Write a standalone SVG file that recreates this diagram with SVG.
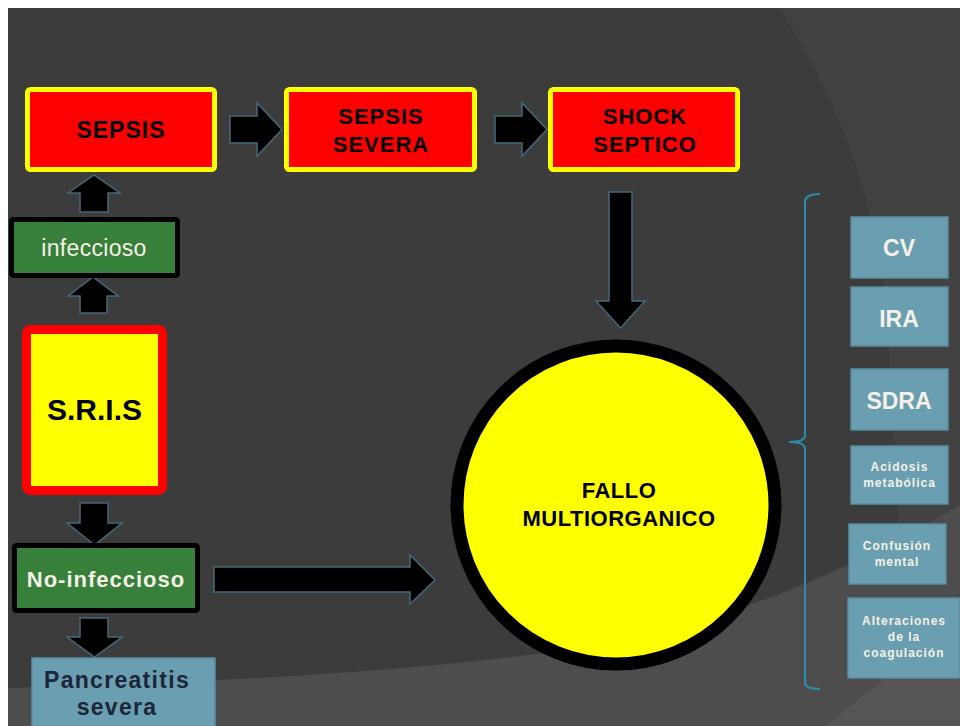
<svg xmlns="http://www.w3.org/2000/svg" width="960" height="726" viewBox="0 0 960 726">
<defs>
<style>
.arrow{fill:#000;stroke:#43697a;stroke-width:1.5;stroke-linejoin:miter}
.redbox{fill:#ff0000;stroke:#ffff00;stroke-width:5}
.greenbox{fill:#378039;stroke:#000;stroke-width:5}
.tealbox{fill:#6a9fb1;stroke:#5a8d9e;stroke-width:1.5}
.t{font-family:"Liberation Sans",Arial,sans-serif;text-anchor:middle}
.rt{font-size:22px;font-weight:bold;fill:#000;letter-spacing:1px}
.wt{fill:#f6f1e8;font-weight:bold}
.st{font-size:12px;letter-spacing:1px}
</style>
</defs>
<rect x="0" y="0" width="960" height="726" fill="#ffffff"/>
<rect x="8" y="8" width="952" height="718" fill="#3c3c3c"/>
<path d="M780 8 Q870 150 885 300 Q900 500 905 726 L960 726 L960 8 Z" fill="#424242"/>
<path d="M8 688 Q400 678 620 642 Q800 602 960 505 L960 726 L8 726 Z" fill="#4d4d4d"/>
<path d="M826 726 Q890 670 960 627 L960 726 Z" fill="#555555"/>

<g id="connectors">
<path class="arrow" d="M230 116 L257 116 L257 103 L282 129.5 L257 156 L257 143 L230 143 Z"/>
<path class="arrow" d="M495 116 L522 116 L522 103 L547 129.5 L522 156 L522 143 L495 143 Z"/>
<path class="arrow" d="M609 192 L632 192 L632 301 L645 301 L620.5 328 L596 301 L609 301 Z"/>
<path class="arrow" d="M80 212 L80 193 L68 193 L94 175 L120 193 L108 193 L108 212 Z"/>
<path class="arrow" d="M80 313 L80 296 L68 296 L93 277 L118 296 L107 296 L107 313 Z"/>
<path class="arrow" d="M80 503 L108 503 L108 523 L122 523 L94.5 545 L67 523 L80 523 Z"/>
<path class="arrow" d="M80 618 L108 618 L108 637 L122 637 L94.5 657 L67 637 L80 637 Z"/>
<path class="arrow" d="M214 567 L410 567 L410 555 L435 580 L410 604 L410 592 L214 592 Z"/>
<path d="M820 194 Q806 194 805 201 L805 436 Q804 442 789 442 Q804 442 805 448 L805 683 Q806 689 820 689" fill="none" stroke="#2a8cad" stroke-width="2"/>
</g>

<g id="sepsis">
<rect class="redbox" x="27.5" y="89.5" width="187" height="80" rx="3"/>
<text class="t rt" x="121" y="138" style="font-size:23px">SEPSIS</text>
</g>
<g id="sepsis-severa">
<rect class="redbox" x="286.5" y="89.5" width="188" height="80" rx="3"/>
<text class="t rt" x="381" y="124">SEPSIS</text>
<text class="t rt" x="381" y="152">SEVERA</text>
</g>
<g id="shock-septico">
<rect class="redbox" x="550.5" y="89.5" width="187" height="80" rx="3"/>
<text class="t rt" x="645" y="124">SHOCK</text>
<text class="t rt" x="645" y="152">SEPTICO</text>
</g>

<g id="infeccioso">
<rect class="greenbox" x="11.5" y="219.5" width="166" height="56" rx="2"/>
<text class="t" x="94" y="256" style="font-size:23px;fill:#f6f1e8;letter-spacing:0.3px">infeccioso</text>
</g>

<g id="sris">
<rect x="26.5" y="329.5" width="136" height="161" rx="4" fill="#ffff00" stroke="#ff0000" stroke-width="9"/>
<text class="t" x="94.5" y="420" style="font-size:30px;font-weight:bold;fill:#000">S.R.I.S</text>
</g>

<g id="no-infeccioso">
<rect class="greenbox" x="14.5" y="545.5" width="183" height="65" rx="2"/>
<text class="t wt" x="106" y="587" style="font-size:22px;letter-spacing:1px">No-infeccioso</text>
</g>

<g id="pancreatitis">
<rect class="tealbox" x="32" y="658" width="183" height="80"/>
<text class="t" x="117" y="688" style="font-size:23px;font-weight:bold;fill:#1c2638;letter-spacing:1.3px">Pancreatitis</text>
<text class="t" x="117" y="715" style="font-size:23px;font-weight:bold;fill:#1c2638;letter-spacing:1.3px">severa</text>
</g>

<g id="fallo-multiorganico">
<circle cx="616" cy="505" r="159" fill="#ffff00" stroke="#000" stroke-width="13"/>
<text class="t" x="619" y="498" style="font-size:22px;font-weight:bold;fill:#000;letter-spacing:0.5px">FALLO</text>
<text class="t" x="619" y="526" style="font-size:22px;font-weight:bold;fill:#000;letter-spacing:0.5px">MULTIORGANICO</text>
</g>

<g id="cv">
<rect class="tealbox" x="851" y="217" width="97" height="61"/>
<text class="t wt" x="899" y="256" style="font-size:23px">CV</text>
</g>
<g id="ira">
<rect class="tealbox" x="851" y="287" width="97" height="59"/>
<text class="t wt" x="899" y="327" style="font-size:23px">IRA</text>
</g>
<g id="sdra">
<rect class="tealbox" x="851" y="369" width="97" height="61"/>
<text class="t wt" x="899" y="409" style="font-size:23px">SDRA</text>
</g>
<g id="acidosis">
<rect class="tealbox" x="851" y="446" width="97" height="58"/>
<text class="t wt st" x="899.5" y="471">Acidosis</text>
<text class="t wt st" x="899.5" y="487">metabólica</text>
</g>
<g id="confusion">
<rect class="tealbox" x="849" y="524" width="97" height="60"/>
<text class="t wt st" x="897" y="550">Confusión</text>
<text class="t wt st" x="897" y="566">mental</text>
</g>
<g id="coagulacion">
<rect class="tealbox" x="848" y="598" width="112" height="80"/>
<text class="t wt st" x="904" y="625">Alteraciones</text>
<text class="t wt st" x="904" y="641">de la</text>
<text class="t wt st" x="904" y="657">coagulación</text>
</g>
</svg>
